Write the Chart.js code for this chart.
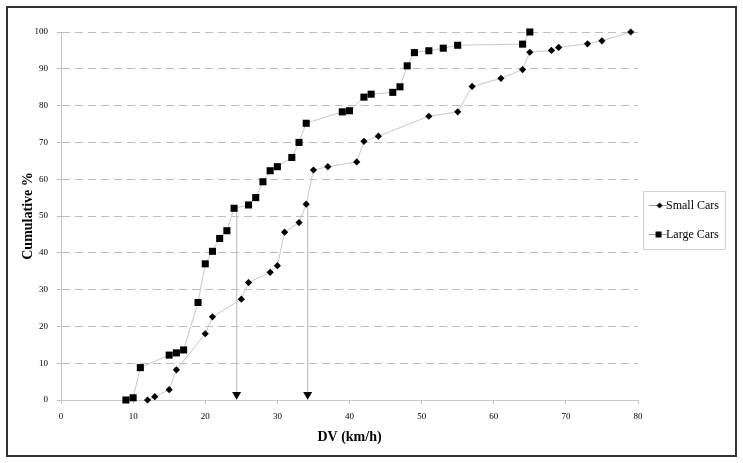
<!DOCTYPE html>
<html>
<head>
<meta charset="utf-8">
<script src="https://cdn.jsdelivr.net/npm/chart.js@4"></script>
<style>
  html, body { margin: 0; padding: 0; background: #fff; }
  #wrap { width: 743px; height: 463px; }
</style>
</head>
<body>
<div id="wrap"><canvas id="myChart" width="743" height="463"></canvas></div>
<script>
const dvSmall = [12, 13, 15, 16, 20, 21, 25, 26, 29, 30, 31, 33, 34, 35, 37, 41, 42, 44, 51, 55, 57, 61, 64, 65, 68, 69, 73, 75, 79];
const cumSmall = [0, 0.9, 2.8, 8.2, 18, 22.6, 27.4, 31.9, 34.7, 36.5, 45.6, 48.2, 53.2, 62.5, 63.4, 64.7, 70.3, 71.7, 77.1, 78.3, 85.2, 87.4, 89.8, 94.5, 95, 95.8, 96.8, 97.6, 100];
const dvLarge = [9, 10, 11, 15, 16, 17, 19, 20, 21, 22, 23, 24, 26, 27, 28, 29, 30, 32, 33, 34, 39, 40, 42, 43, 46, 47, 48, 49, 51, 53, 55, 64, 65];
const cumLarge = [0, 0.6, 8.8, 12.2, 12.8, 13.6, 26.5, 37, 40.4, 43.9, 46, 52.1, 53, 55, 59.3, 62.3, 63.4, 65.9, 70, 75.2, 78.3, 78.6, 82.3, 83.1, 83.6, 85.1, 90.8, 94.4, 94.9, 95.6, 96.4, 96.7, 100];
// median arrows
const arrowX = [24.35, 34.2];
const arrowTop = [52.1, 53.2];
const arrowBase = 1.5;

const xTicks = [0, 10, 20, 30, 40, 50, 60, 70, 80];
const yTicks = [0, 10, 20, 30, 40, 50, 60, 70, 80, 90, 100];

const serif = "'Liberation Serif', 'Times New Roman', serif";
const lineGray = "#c8c8c8";

function toPoints(xs, ys) {
  return xs.map((x, i) => ({ x: x, y: ys[i] }));
}

// little line+marker icons for the legend
function legendIcon(kind) {
  const c = document.createElement("canvas");
  c.width = 18; c.height = 9;
  const g = c.getContext("2d");
  g.strokeStyle = "#999"; g.lineWidth = 1;
  g.beginPath(); g.moveTo(0, 4.5); g.lineTo(18, 4.5); g.stroke();
  g.fillStyle = "#000";
  if (kind === "diamond") {
    g.beginPath(); g.moveTo(11, 1.5); g.lineTo(14, 4.5); g.lineTo(11, 7.5); g.lineTo(8, 4.5); g.closePath(); g.fill();
  } else {
    g.fillRect(7, 1.5, 6, 6);
  }
  return c;
}
const icons = [legendIcon("diamond"), legendIcon("square")];

const datasets = [
  {
    label: "Small Cars",
    data: toPoints(dvSmall, cumSmall),
    showLine: true,
    borderColor: lineGray,
    borderWidth: 1,
    pointStyle: "rectRot",
    pointRadius: 3.6,
    pointBackgroundColor: "#000",
    pointBorderWidth: 0,
    clip: false
  },
  {
    label: "Large Cars",
    data: toPoints(dvLarge, cumLarge),
    showLine: true,
    borderColor: lineGray,
    borderWidth: 1,
    pointStyle: "rect",
    pointRadius: 5,
    pointBackgroundColor: "#000",
    pointBorderWidth: 0,
    clip: false
  }
];
for (let k = 0; k < arrowX.length; k++) {
  datasets.push({
    label: "arrow" + k,
    data: [{ x: arrowX[k], y: arrowTop[k] }, { x: arrowX[k], y: arrowBase }],
    showLine: true,
    borderColor: lineGray,
    borderWidth: 1,
    pointStyle: "triangle",
    pointRotation: 180,
    pointRadius: [0, 5.2],
    pointBackgroundColor: "#000",
    pointBorderWidth: 0,
    clip: false
  });
}

const framePlugin = {
  id: "frame",
  beforeDraw(chart) {
    const ctx = chart.ctx;
    ctx.save();
    ctx.fillStyle = "#fff";
    ctx.fillRect(0, 0, chart.width, chart.height);
    ctx.restore();
  },
  afterDraw(chart) {
    const ctx = chart.ctx;
    ctx.save();
    ctx.strokeStyle = "#333";
    ctx.lineWidth = 2;
    ctx.strokeRect(7, 7, chart.width - 14, chart.height - 14);
    // legend border
    const lg = chart.legend;
    const hb = lg.legendHitBoxes;
    if (hb && hb.length) {
      const top = hb[0].top - 8.5;
      const bottom = hb[hb.length - 1].top + hb[hb.length - 1].height + 8.5;
      ctx.strokeStyle = "#d0d0d0";
      ctx.lineWidth = 1;
      ctx.strokeRect(lg.left + 5.5, Math.round(top) + 0.5, 82, Math.round(bottom - top));
    }
    ctx.restore();
  }
};

new Chart("myChart", {
  type: "scatter",
  data: { datasets: datasets },
  options: {
    responsive: false,
    animation: false,
    events: [],
    layout: { padding: { left: 0, top: 32, right: 14, bottom: 0 } },
    scales: {
      x: {
        type: "linear",
        min: 0,
        max: 80,
        afterBuildTicks: (s) => { s.ticks = xTicks.map(v => ({ value: v })); },
        afterFit: (s) => { s.height = 63; },
        grid: { drawOnChartArea: false, drawTicks: true, tickLength: 4, color: "#c8c8c8" },
        border: { color: "#c8c8c8", width: 1 },
        ticks: { color: "#000", padding: 7, font: { family: serif, size: 9 } },
        title: {
          display: true,
          text: "DV (km/h)",
          color: "#000",
          font: { family: serif, size: 14, weight: "bold" },
          padding: { top: 0, bottom: 17.6 }
        }
      },
      y: {
        type: "linear",
        min: 0,
        max: 100,
        afterBuildTicks: (s) => { s.ticks = yTicks.map(v => ({ value: v })); },
        afterFit: (s) => { s.width = 61; },
        grid: { color: "#bdbdbd", tickLength: 4 },
        border: { color: "#c8c8c8", width: 1, dash: [8, 5] },
        ticks: { color: "#000", padding: 9, font: { family: serif, size: 9 } },
        title: {
          display: true,
          text: "Cumulative %",
          color: "#000",
          font: { family: serif, size: 14, weight: "bold" },
          padding: { top: 19.6, bottom: 0 }
        }
      }
    },
    plugins: {
      tooltip: { enabled: false },
      legend: {
        position: "right",
        fullSize: false,
        title: { display: true, text: "", font: { size: 2 }, padding: { top: 2.8, bottom: 2.8 } },
        labels: {
          usePointStyle: true,
          pointStyleWidth: 5,
          padding: 17,
          color: "#000",
          font: { family: serif, size: 12 },
          filter: (item) => item.datasetIndex < 2,
          generateLabels: (chart) => {
            const items = Chart.defaults.plugins.legend.labels.generateLabels(chart);
            items.forEach((it) => { if (it.datasetIndex < 2) it.pointStyle = icons[it.datasetIndex]; });
            return items;
          }
        }
      }
    }
  },
  plugins: [framePlugin]
});
</script>
</body>
</html>
